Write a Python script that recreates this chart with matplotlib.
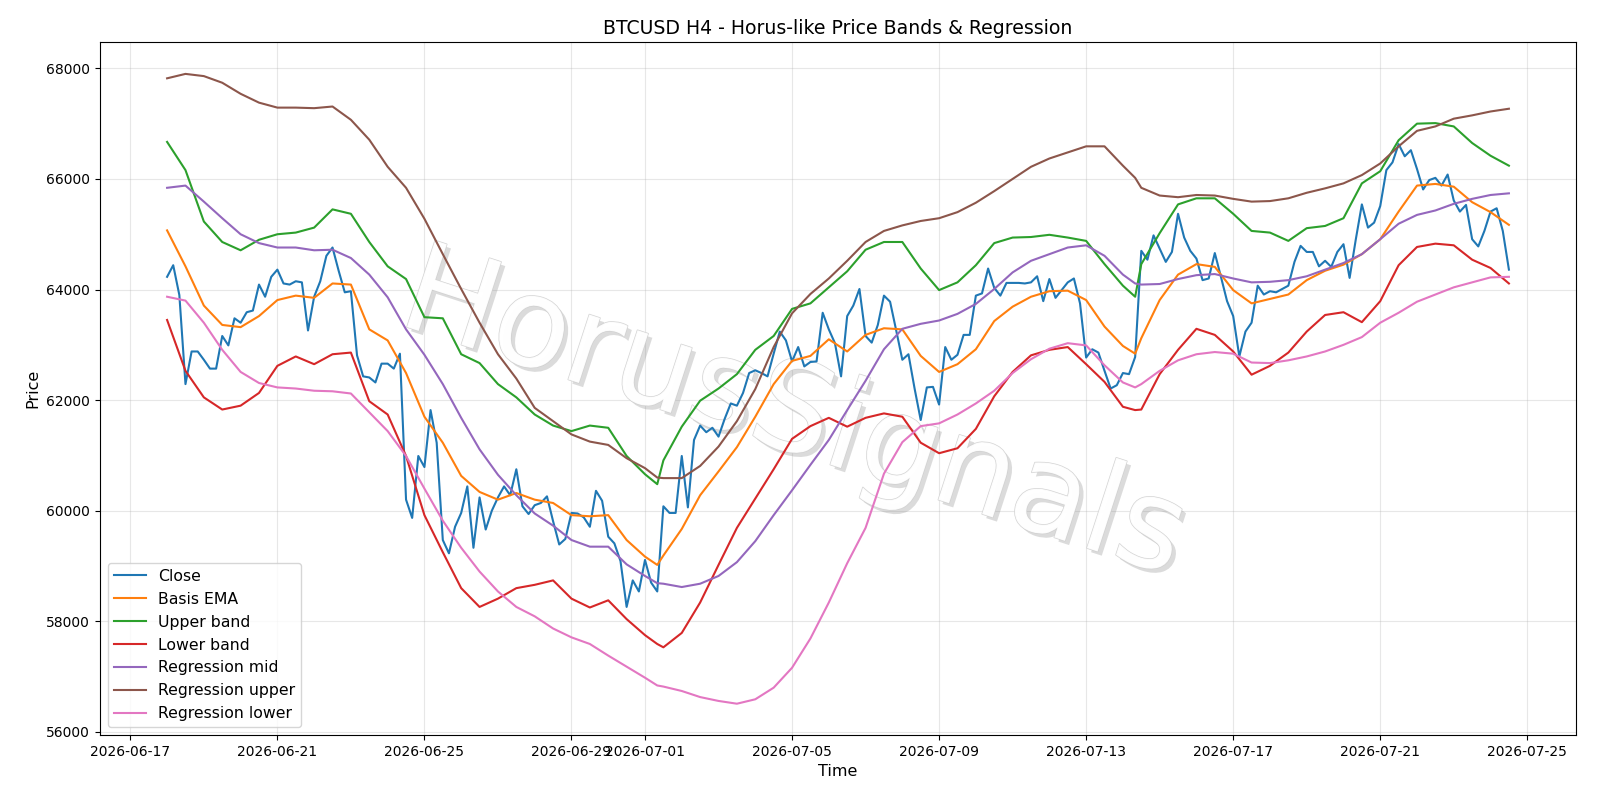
import matplotlib
matplotlib.use("Agg")
import matplotlib.pyplot as plt
import matplotlib.patheffects as pe
import pandas as pd

# H4 bars, first bar 2026-06-18 00:00
START = "2026-06-18 00:00"
N_BARS = 220
# band / regression series were read every 3rd bar, plus the two turning points
SMOOTH_BARS = sorted(set(range(0, N_BARS, 3)) | {80, 158})

close = [
    64230, 64440, 63900, 62290, 62880, 62880, 62730, 62570, 62570, 63160,
    62990, 63480, 63400, 63590, 63620, 64090, 63870, 64230, 64360, 64110,
    64090, 64150, 64130, 63260, 63870, 64150, 64610, 64760, 64340, 63950,
    63970, 62810, 62430, 62410, 62320, 62660, 62660, 62570, 62840, 60200,
    59870, 60990, 60790, 61820, 61230, 59470, 59230, 59710, 59960, 60440,
    59330, 60240, 59660, 60000, 60240, 60440, 60280, 60750, 60080, 59940,
    60100, 60140, 60260, 59810, 59390, 59490, 59960, 59950, 59880, 59710,
    60360, 60180, 59530, 59410, 59090, 58260, 58740, 58540, 59110, 58700,
    58540, 60080, 59960, 59960, 60990, 60060, 61280, 61540, 61420, 61500,
    61340, 61660, 61940, 61900, 62130, 62490, 62540, 62490, 62430, 62840,
    63240, 63080, 62700, 62960, 62610, 62690, 62700, 63580, 63280, 63030,
    62430, 63520, 63710, 64010, 63160, 63040, 63360, 63890, 63780, 63260,
    62730, 62830, 62210, 61640, 62230, 62240, 61920, 62960, 62730, 62820,
    63180, 63180, 63890, 63930, 64380, 64030, 63890, 64120, 64120, 64120,
    64110, 64130, 64240, 63790, 64190, 63850, 63990, 64130, 64200, 63750,
    62770, 62920, 62860, 62530, 62210, 62270, 62490, 62470, 62780, 64700,
    64540, 64980, 64740, 64500, 64680, 65370, 64940, 64700, 64560, 64170,
    64200, 64660, 64230, 63790, 63520, 62790, 63240, 63400, 64070, 63910,
    63970, 63950, 64010, 64070, 64500, 64790, 64680, 64680, 64420, 64520,
    64410, 64680, 64820, 64210, 64900, 65540, 65120, 65210, 65510, 66160,
    66300, 66630, 66410, 66520, 66180, 65810, 65980, 66020, 65880, 66080,
    65610, 65410, 65530, 64910, 64780, 65060, 65410, 65470, 65060, 64360,
]

basis_ema = [
    65070, 64420, 63710, 63360, 63320, 63520, 63810, 63890, 63850, 64110,
    64090, 63280, 63080, 62490, 61700, 61230, 60630, 60340, 60200, 60320,
    60200, 60140, 59920, 59900, 59920, 59470, 59170, 59020, 59190, 59670,
    60280, 60710, 61150, 61700, 62290, 62710, 62800, 63100, 62880, 63180,
    63300, 63280, 62800, 62510, 62650, 62920, 63430, 63690, 63870, 63970,
    63980, 63810, 63330, 62980, 62840, 63120, 63810, 64270, 64460, 64410,
    63990, 63750, 63830, 63910, 64170, 64340, 64450, 64640, 64910, 65410,
    65880, 65910, 65860, 65580, 65400, 65170,
]

upper_band = [
    66670, 66160, 65230, 64860, 64710, 64900, 65000, 65030, 65120, 65450,
    65370, 64860, 64420, 64190, 63500, 63480, 62830, 62670, 62290, 62050,
    61740, 61540, 61440, 61540, 61500, 60990, 60660, 60480, 60910, 61520,
    61990, 62210, 62470, 62910, 63160, 63650, 63750, 64040, 64330, 64720,
    64860, 64860, 64380, 63990, 64130, 64440, 64840, 64940, 64950, 64990,
    64940, 64880, 64460, 64070, 63870, 64460, 65020, 65540, 65650, 65650,
    65370, 65060, 65030, 64880, 65110, 65150, 65290, 65920, 66140, 66700,
    67000, 67010, 66950, 66650, 66420, 66240,
]

lower_band = [
    63450, 62530, 62050, 61830, 61900, 62130, 62620, 62790, 62650, 62830,
    62860, 61980, 61740, 60990, 59920, 59250, 58600, 58260, 58410, 58600,
    58660, 58740, 58410, 58250, 58380, 58040, 57750, 57590, 57530, 57790,
    58340, 59020, 59690, 60220, 60750, 61300, 61530, 61680, 61520, 61680,
    61760, 61700, 61230, 61040, 61130, 61480, 62070, 62510, 62810, 62910,
    62960, 62650, 62330, 61880, 61820, 61830, 62470, 62910, 63290, 63180,
    62880, 62460, 62620, 62860, 63240, 63540, 63590, 63410, 63790, 64440,
    64770, 64830, 64800, 64540, 64390, 64110,
]

reg_mid = [
    65840, 65880, 65590, 65290, 65000, 64840, 64760, 64760, 64710, 64720,
    64570, 64270, 63860, 63280, 62820, 62290, 61680, 61110, 60650, 60280,
    59950, 59730, 59470, 59350, 59350, 59030, 58820, 58690, 58680, 58620,
    58680, 58820, 59070, 59450, 59920, 60370, 60830, 61280, 61820, 62350,
    62920, 63290, 63380, 63440, 63560, 63740, 64010, 64310, 64520, 64640,
    64760, 64800, 64610, 64270, 64110, 64090, 64100, 64190, 64260, 64280,
    64200, 64130, 64140, 64170, 64240, 64360, 64480, 64640, 64910, 65190,
    65350, 65430, 65550, 65640, 65710, 65740,
]

reg_upper = [
    67820, 67900, 67860, 67740, 67540, 67380, 67290, 67290, 67280, 67310,
    67070, 66710, 66220, 65840, 65280, 64640, 64010, 63400, 62830, 62390,
    61860, 61620, 61380, 61250, 61190, 60950, 60770, 60600, 60590, 60590,
    60810, 61160, 61620, 62200, 62960, 63570, 63920, 64200, 64520, 64860,
    65060, 65160, 65240, 65290, 65400, 65570, 65780, 66000, 66220, 66370,
    66480, 66590, 66590, 66240, 66020, 65840, 65700, 65670, 65710, 65700,
    65640, 65590, 65600, 65650, 65750, 65830, 65920, 66070, 66280, 66590,
    66870, 66950, 67090, 67150, 67220, 67270,
]

reg_lower = [
    63870, 63800, 63400, 62910, 62510, 62310, 62230, 62210, 62170, 62160,
    62120, 61780, 61440, 60990, 60400, 59820, 59330, 58900, 58540, 58260,
    58090, 57870, 57710, 57590, 57380, 57180, 56980, 56840, 56820, 56740,
    56630, 56560, 56510, 56590, 56800, 57160, 57690, 58340, 59050, 59690,
    60670, 61240, 61530, 61580, 61740, 61940, 62170, 62490, 62740, 62930,
    63030, 62990, 62630, 62320, 62230, 62290, 62530, 62720, 62830, 62870,
    62840, 62680, 62670, 62720, 62790, 62880, 63000, 63140, 63400, 63580,
    63780, 63910, 64040, 64130, 64220, 64230,
]

times = pd.date_range(START, periods=N_BARS, freq="4h")
times_s = times[SMOOTH_BARS]

fig, ax = plt.subplots(figsize=(16, 8), dpi=100)
fig.subplots_adjust(left=0.0625, right=0.985, top=0.947, bottom=0.081)

ax.plot(times, close, label="Close")
ax.plot(times_s, basis_ema, label="Basis EMA")
ax.plot(times_s, upper_band, label="Upper band")
ax.plot(times_s, lower_band, label="Lower band")
ax.plot(times_s, reg_mid, label="Regression mid")
ax.plot(times_s, reg_upper, label="Regression upper")
ax.plot(times_s, reg_lower, label="Regression lower")

# watermark: light text with thin grey edge and a soft drop shadow
ax.text(
    0.47, 0.46, "HorusSignals", transform=ax.transAxes,
    fontsize=90, rotation=-18, ha="center", va="center",
    color="white", alpha=0.9, zorder=1.8,
    path_effects=[
        pe.SimplePatchShadow(offset=(3, -3), shadow_rgbFace="#8a8a8a", alpha=0.3),
        pe.Stroke(linewidth=1.0, foreground="#cfcfcf"),
        pe.Normal(),
    ],
)

ax.set_title("BTCUSD H4 - Horus-like Price Bands & Regression", fontsize=13.6)
ax.set_xlabel("Time", fontsize=11.5)
ax.set_ylabel("Price", fontsize=11.5)
ax.grid(True, alpha=0.3)
ax.legend(loc="lower left", fontsize=11.3)

fig.savefig("out.png", dpi=100)
